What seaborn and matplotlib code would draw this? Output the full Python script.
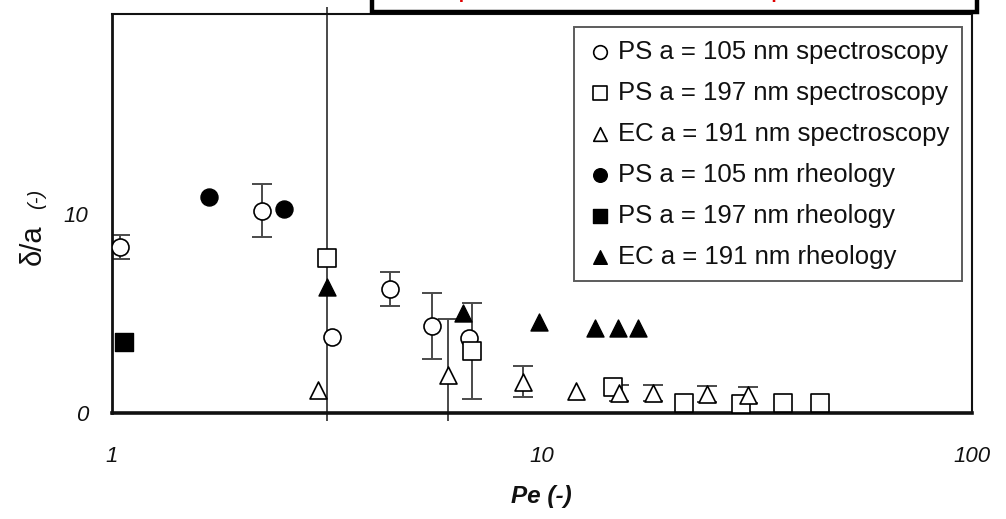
import matplotlib
matplotlib.use("Agg")
import matplotlib.pyplot as plt
import matplotlib.transforms as mtransforms
from matplotlib.patches import Rectangle
import seaborn as sns
import numpy as np

# ---- data: depletion thickness delta/a versus Peclet number ----
ps105_spec_pe = [1.044, 2.23, 3.24, 4.42, 5.55, 6.76]
ps105_spec_d = [8.32, 10.15, 3.82, 6.2, 4.35, 3.77]
ps105_spec_err = [0.6, 1.33, 0.0, 0.85, 1.65, 0.0]

ps197_spec_pe = [3.17, 6.86, 14.6, 21.43, 29.0, 36.4, 44.3]
ps197_spec_d = [7.77, 3.1, 1.32, 0.48, 0.45, 0.48, 0.48]
ps197_spec_err_lo = [8.3, 2.4, 0.0, 0.0, 0.0, 0.0, 0.0]
ps197_spec_err_hi = [12.8, 2.4, 0.0, 0.0, 0.0, 0.0, 0.0]

ec191_spec_pe = [3.01, 6.03, 9.03, 12.0, 15.07, 18.09, 24.14, 30.2]
ec191_spec_d = [1.15, 1.9, 1.57, 1.1, 0.98, 0.98, 0.93, 0.9]
ec191_spec_err_lo = [0.0, 2.4, 0.77, 0.0, 0.4, 0.4, 0.4, 0.4]
ec191_spec_err_hi = [0.0, 2.8, 0.77, 0.0, 0.4, 0.4, 0.4, 0.4]

ps105_rheo_pe = [1.68, 2.51]
ps105_rheo_d = [10.82, 10.23]

ps197_rheo_pe = [1.066]
ps197_rheo_d = [3.57]

ec191_rheo_pe = [3.17, 6.55, 9.84, 13.3, 15.0, 16.7]
ec191_rheo_d = [6.3, 5.0, 4.57, 4.28, 4.28, 4.28]

series_labels = [
    "PS a = 105 nm spectroscopy",
    "PS a = 197 nm spectroscopy",
    "EC a = 191 nm spectroscopy",
    "PS a = 105 nm rheology",
    "PS a = 197 nm rheology",
    "EC a = 191 nm rheology",
]
x_ticks = [1, 10, 100]
x_ticklabels = ["1", "10", "100"]
y_ticks = [0, 10, 20]
y_ticklabels = ["0", "10", ""]
panel_title = "Depletion thickness and shear rate dependence"

# ---- style ----
sns.set_style("white")
plt.rcParams["font.family"] = ["Liberation Sans", "DejaVu Sans"]

W, H = 1006, 519
fig = plt.figure(figsize=(W / 100, H / 100), dpi=100)
ax = fig.add_axes([112 / W, 1 - 413 / H, (972 - 112) / W, (413 - 14) / H])
ax.set_xscale("log")
ax.set_xlim(1, 100)
ax.set_ylim(0, 20)

# clip region for the error bars (slightly larger than the plot area)
clip_box = mtransforms.TransformedBbox(
    mtransforms.Bbox([[1, -0.38], [100, 20.35]]), ax.transData)

err_kw = dict(fmt="none", ecolor="#4a4a4a", elinewidth=1.4, capsize=7,
              capthick=1.4, zorder=2)


def draw_err(x, y, lo, hi):
    x = np.asarray(x); y = np.asarray(y)
    lo = np.asarray(lo); hi = np.asarray(hi)
    keep = (lo > 0) | (hi > 0)
    cont = ax.errorbar(x[keep], y[keep], yerr=[lo[keep], hi[keep]], **err_kw)
    for art in list(cont.lines[1]) + list(cont.lines[2]):
        art.set_clip_on(True)
        art.set_clip_box(clip_box)


draw_err(ps105_spec_pe, ps105_spec_d, ps105_spec_err, ps105_spec_err)
draw_err(ps197_spec_pe, ps197_spec_d, ps197_spec_err_lo, ps197_spec_err_hi)
draw_err(ec191_spec_pe, ec191_spec_d, ec191_spec_err_lo, ec191_spec_err_hi)

msize = 150
open_kw = dict(facecolor="white", edgecolor="black", linewidth=1.2, s=msize, zorder=3)
fill_kw = dict(facecolor="black", edgecolor="black", linewidth=1.0, s=msize, zorder=3)

sns.scatterplot(x=ps105_spec_pe, y=ps105_spec_d, marker="o", label=series_labels[0], ax=ax, **open_kw)
sns.scatterplot(x=ps197_spec_pe, y=ps197_spec_d, marker="s", label=series_labels[1], ax=ax, **open_kw)
sns.scatterplot(x=ec191_spec_pe, y=ec191_spec_d, marker="^", label=series_labels[2], ax=ax, **open_kw)
sns.scatterplot(x=ps105_rheo_pe, y=ps105_rheo_d, marker="o", label=series_labels[3], ax=ax, **fill_kw)
sns.scatterplot(x=ps197_rheo_pe, y=ps197_rheo_d, marker="s", label=series_labels[4], ax=ax, **fill_kw)
sns.scatterplot(x=ec191_rheo_pe, y=ec191_rheo_d, marker="^", label=series_labels[5], ax=ax, **fill_kw)

# ---- axes, ticks, spines ----
ax.set_xticks(x_ticks)
ax.set_xticklabels(x_ticklabels)
ax.xaxis.set_minor_locator(matplotlib.ticker.NullLocator())
ax.set_yticks(y_ticks)
ax.set_yticklabels(y_ticklabels)
ax.tick_params(axis="both", which="major", direction="out", length=6,
               width=1.2, color="#555555", labelsize=16, labelcolor="#111111")
ax.tick_params(axis="x", pad=18)
ax.tick_params(axis="y", pad=11)
for lab in ax.get_xticklabels() + ax.get_yticklabels():
    lab.set_fontstyle("italic")

for side, lw in (("left", 2.0), ("bottom", 2.6), ("top", 1.5), ("right", 1.5)):
    ax.spines[side].set_visible(True)
    ax.spines[side].set_color("#111111")
    ax.spines[side].set_linewidth(lw)
ax.grid(False)

ax.set_xlabel("")
ax.set_ylabel("")
fig.text(541 / W, 1 - 497 / H, "Pe (-)", ha="center", va="center",
         fontsize=17.5, fontweight="bold", fontstyle="italic", color="#111111")
fig.text(33 / W, 1 - 245 / H, "δ/a", rotation=90, ha="center", va="center",
         fontsize=21, color="#111111")
fig.text(37 / W, 1 - 199 / H, "(-)", rotation=90, ha="center", va="center",
         fontsize=14.5, fontstyle="italic", color="#111111")

# ---- legend ----
leg = ax.legend(loc="upper left", bbox_to_anchor=(574 / W, 1 - 27 / H),
                bbox_transform=fig.transFigure, borderaxespad=0,
                fontsize=18.5, frameon=True, fancybox=False, markerscale=0.8,
                handlelength=1.0, handletextpad=0.22, labelspacing=0.66,
                borderpad=0.5)
leg.get_frame().set_edgecolor("#333333")
leg.get_frame().set_linewidth(1.4)
for t in leg.get_texts():
    t.set_color("#111111")

# ---- header box at the top of the figure ----
fig.patches.append(Rectangle((372 / W, 1 - 12 / H), (977 - 372) / W, 0.2,
                             transform=fig.transFigure, facecolor="white",
                             edgecolor="black", linewidth=3.2, zorder=10))
fig.text(435 / W, 1 + 2 / H, panel_title, ha="left", va="baseline",
         fontsize=13.5, fontweight="bold", color="#e00000", zorder=11)

fig.savefig("out.png", dpi=100)
